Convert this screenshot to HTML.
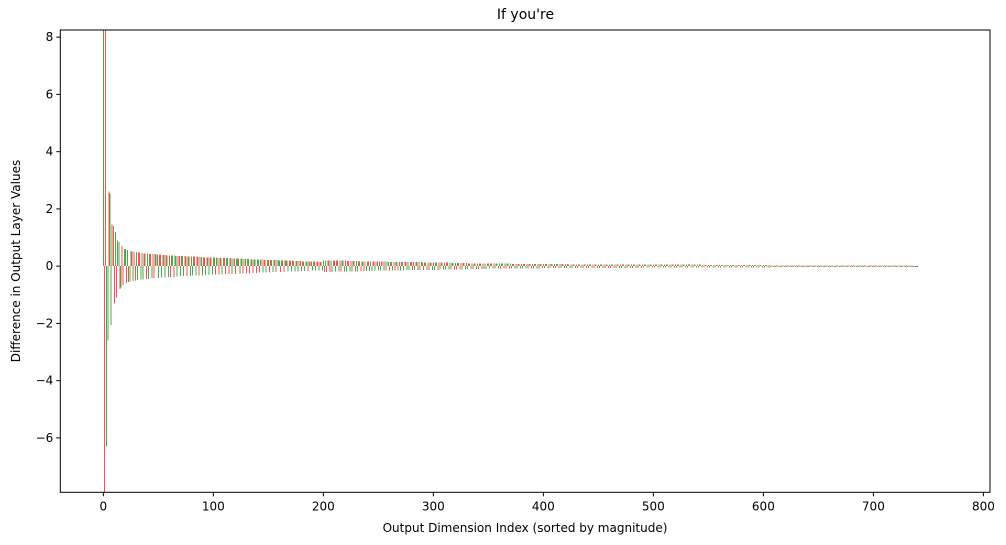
<!DOCTYPE html>
<html><head><meta charset="utf-8">
<style>
body{margin:0;background:#fff;}
svg{display:block;font-family:"DejaVu Sans","Liberation Sans",sans-serif;}
</style></head>
<body>
<svg id="chart" width="1006" height="545" viewBox="0 0 1006 545" xmlns="http://www.w3.org/2000/svg">
<rect x="0" y="0" width="1006" height="545" fill="#fff"/>
<text x="525.5" y="19" font-size="14" text-anchor="middle" fill="#000">If you're</text>
<g id="bars" shape-rendering="crispEdges"></g>
<g id="axes"></g>
<text x="525" y="532" font-size="12" text-anchor="middle" fill="#000">Output Dimension Index (sorted by magnitude)</text>
<text transform="translate(20,261) rotate(-90)" font-size="12" text-anchor="middle" fill="#000">Difference in Output Layer Values</text>
</svg>
<script>
// values in hundredths
const valuesHundredths = [
900,-900,900,-630,-260,260,254,-206,146,140,-130,120,-110,90,85,-80,-75,70,-65,60,
60,-58,57,-55,-54,53,52,-51,50,-50,49,-48,48,47,-47,46,-46,45,45,-44,
44,-44,43,43,-43,42,-42,42,41,41,-41,40,40,-40,39,39,-39,39,38,-38,
38,-38,37,37,-37,37,36,-36,36,36,-35,35,35,-35,35,34,-34,34,34,-34,
34,-33,33,33,-33,33,32,-32,32,32,-32,31,31,-31,31,31,-31,30,30,-30,
30,30,-30,30,29,-29,29,29,-29,29,28,-28,28,28,-28,28,27,-27,27,27,
-27,27,26,26,-26,26,26,-26,25,25,-25,25,25,-25,24,24,-24,24,24,-24,
23,23,-23,23,23,-23,22,22,-22,22,22,-22,22,21,-21,21,21,-21,21,20,
20,-20,20,20,-20,20,19,19,-19,19,19,-19,19,18,-18,18,18,-18,18,18,
-17,17,17,-17,17,17,-17,17,16,16,-16,16,16,-16,16,16,-16,15,15,-15,
20,-20,20,-20,20,20,-20,20,-20,20,19,-19,19,19,-19,19,-19,19,19,-19,
19,-19,18,18,-18,18,-18,18,18,-18,18,-18,18,17,-17,17,17,-17,17,-17,
17,17,-17,17,-17,17,16,-16,16,16,-16,16,-16,16,16,-16,16,-16,16,15,
-15,15,15,-15,15,-15,15,15,-15,15,-15,15,15,-15,14,14,-14,14,-14,14,
14,-14,14,-14,14,14,-14,14,-14,14,13,-13,13,13,-13,13,-13,13,13,-13,
13,-13,13,13,-13,12,-12,12,12,-12,12,-12,12,12,-12,12,-12,11,11,-11,
11,-11,11,11,-11,11,-11,11,11,-11,11,-10,10,10,-10,10,-10,10,10,-10,
10,-10,10,10,-10,10,-10,10,-10,10,9,-9,9,9,-9,9,-9,9,9,-9,
9,-9,9,9,-9,9,-9,9,9,-9,9,-9,8,8,-8,8,-8,8,8,-8,
8,-8,8,8,-8,8,-8,8,8,-8,8,-8,8,8,-8,8,-8,7,7,-7,
7,-7,7,7,-7,7,-7,7,7,-7,7,-7,7,7,-7,7,-7,7,7,-7,
7,-7,7,6,-6,6,-6,6,6,-6,6,-6,6,6,-6,6,-6,6,6,-6,
6,-6,6,6,-6,6,-6,6,6,-6,6,-6,6,6,-6,6,-6,6,6,-6,
6,-6,6,6,-6,6,-6,6,6,-6,6,-6,6,6,-6,6,-6,6,6,-6,
6,-6,6,6,-6,6,-6,6,6,-6,5,-5,5,5,-5,5,-5,5,5,-5,
5,-5,5,5,-5,5,-5,5,5,-5,5,-5,5,5,-5,5,-5,5,5,-5,
5,-5,5,5,-5,5,-5,5,5,-5,5,-5,5,5,-5,5,-5,5,5,-5,
5,-5,5,5,-5,4,-4,4,4,-4,4,-4,4,4,-4,4,-4,4,4,-4,
4,-4,4,4,-4,4,-4,4,4,-4,4,-4,4,4,-4,4,-4,4,4,-4,
4,-4,4,4,-4,4,-4,4,4,-4,4,-4,4,4,-4,4,-4,4,4,-4,
4,-4,4,4,-4,4,-4,3,3,-3,3,-3,3,3,-3,3,-3,3,3,-3,
3,-3,3,3,-3,3,-3,3,3,-3,3,-3,3,3,-3,3,-3,3,3,-3,
3,-3,3,3,-3,3,-3,3,3,-3,3,-3,3,3,-3,3,-3,3,3,-3,
3,-3,3,3,-3,3,-3,3,3,-3,3,-3,3,3,-3,3,-3,3,3,-3,
3,-3,3,3,-3,3,-3,2,2,-2,2,-2,2,2,-2,2,-2,2,2,-2,
2,-2,2,2,-2,2,-2,2,2,-2,2,-2,2,2,-2,2,-2,2,2,-2,
2,-2,2,2,-2,2,-2,2,2,-2,2,-2,2,2,-2,2,-2,1,1,-1,
1
];
const colorPattern = "grrggrgggrrgrggrgrrggrggrgrgrrggrrgrggrrgggrgrrgrggrrggrgrg";
const xTicks = [0,100,200,300,400,500,600,700,800];
const yTicks = [-6,-4,-2,0,2,4,6,8];

const L=60.3,R=990,T=30,B=492.3;
const xmin=-39.1, xmax=806, ymin=-7.9, ymax=8.25;
const xs = v => L + (v - xmin)/(xmax - xmin)*(R-L);
const ys = v => B - (v - ymin)/(ymax - ymin)*(B-T);
const NS="http://www.w3.org/2000/svg";
const barsG=document.getElementById('bars');
const axesG=document.getElementById('axes');
const clamp=v=>Math.max(T,Math.min(B,v));

valuesHundredths.forEach((h,i)=>{
  const v=h/100;
  const x0=xs(i-0.4), x1=xs(i+0.4);
  const y0=clamp(ys(Math.max(v,0))), y1=clamp(ys(Math.min(v,0)));
  const r=document.createElementNS(NS,'rect');
  r.setAttribute('x',x0);r.setAttribute('y',y0);
  r.setAttribute('width',Math.max(x1-x0,1));r.setAttribute('height',Math.max(y1-y0,1));
  r.setAttribute('fill',colorPattern[i%colorPattern.length]==='g'?'#4ca64c':'#ff4c4c');
  
  
  barsG.appendChild(r);
});

const frame=document.createElementNS(NS,'rect');
frame.setAttribute('x',L);frame.setAttribute('y',T);frame.setAttribute('width',R-L);frame.setAttribute('height',B-T);
frame.setAttribute('fill','none');frame.setAttribute('stroke','#000');frame.setAttribute('stroke-width','1');


axesG.appendChild(frame);

xTicks.forEach(t=>{
  const x=xs(t);
  const l=document.createElementNS(NS,'line');
  l.setAttribute('x1',x);l.setAttribute('x2',x);l.setAttribute('y1',B);l.setAttribute('y2',B+4);l.setAttribute('stroke','#000');
  
  
  axesG.appendChild(l);
  const tx=document.createElementNS(NS,'text');
  tx.setAttribute('x',x);tx.setAttribute('y',B+18);tx.setAttribute('font-size','12');tx.setAttribute('text-anchor','middle');
  tx.textContent=t;
  
  
  axesG.appendChild(tx);
});
yTicks.forEach(t=>{
  const y=ys(t);
  const l=document.createElementNS(NS,'line');
  l.setAttribute('x1',L-4);l.setAttribute('x2',L);l.setAttribute('y1',y);l.setAttribute('y2',y);l.setAttribute('stroke','#000');
  
  
  axesG.appendChild(l);
  const tx=document.createElementNS(NS,'text');
  tx.setAttribute('x',L-7);tx.setAttribute('y',y+4);tx.setAttribute('font-size','12');tx.setAttribute('text-anchor','end');
  tx.textContent=t<0?'\u2212'+Math.abs(t):t;
  
  
  axesG.appendChild(tx);
});
</script>
</body></html>
